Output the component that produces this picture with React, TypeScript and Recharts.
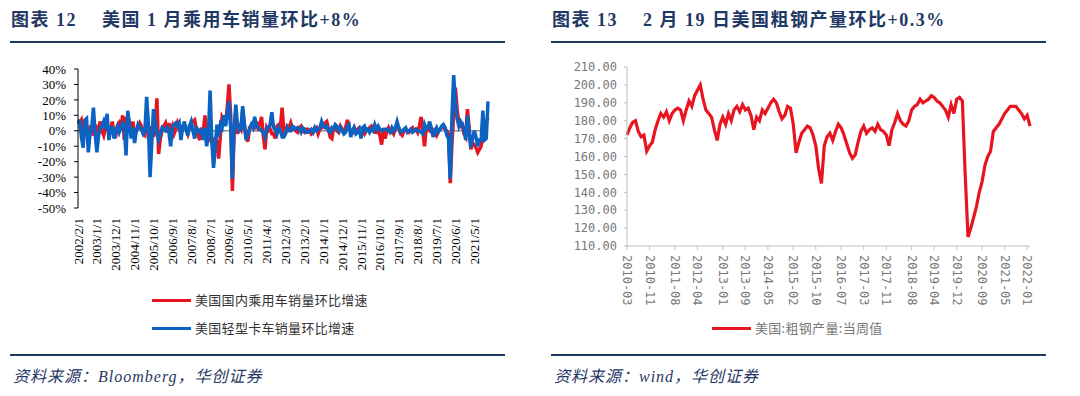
import { LineChart, Line, XAxis, YAxis, ReferenceLine } from "recharts";

// US passenger car / light truck sales, month-on-month %, 2002-02 .. 2022-01
const CAR_MOM = [
  6, 5, 7, 1, 3, 0, -2, 2, 1, -3, 4, -1,
  2, 6, 0, -3, 2, 4, -1, 1, 6, -2, -3, 3,
  5, 1, 10, -6, 9, 3, 5, -1, 6, -3, 0, 2,
  5, 3, -2, -3, 9, -1, -8, 3, -4, 2, 21, -15,
  -5, 0, 3, 5, -1, 5, 0, 3, -2, 1, 5, 2,
  -2, 3, 4, 1, -2, 3, 5, 6, 7, 1, -3, -6,
  2, -1, 10, -3, 2, -5, -8, -10, -4, -8, -18, -3,
  9, 7, 4, 15, 30, 10, -39, 0, 12, -2, 3, 1,
  14, 4, -4, -7, 2, 3, 5, 1, 6, 2, 4, 9,
  -3, -12, 2, 0, 1, -2, -2, -5, 3, 4, 3, 15,
  -1, 0, 3, 2, 5, 1, 2, 0, -1, 2, 3, 0,
  -1, 1, 1, 0, -2, -1, 1, 2, -2, 1, 2, 3,
  5, 6, 1, -4, -5, 2, 2, 0, -1, 3, 1, 0,
  2, 7, 2, 0, -1, 2, 0, 1, 2, 1, 0, -2,
  0, 1, 2, 3, 1, -1, -1, 0, -3, -9, 1, -5,
  0, 2, -1, 0, -2, 1, 3, 2, -2, -3, 0, 1,
  0, -1, 1, 2, 0, 1, -1, 3, 9, 0, -10, 2,
  1, 0, 2, 0, -1, -3, 0, 1, 2, 3, 1, 0,
  -2, -34, -8, 10, 28, 14, 5, 3, 4, -2, -4, 14,
  2, -12, -8, -9, -11, -14, -12, -10, 2, -4, 6, 8,
];

const TRUCK_MOM = [
  7, 6, -4, -11, 7, 8, -14, -2, 2, 15, -2, -14,
  -3, 2, 3, 6, 1, 11, -6, 2, 2, -5, 0, 3,
  -1, 2, 5, 3, -16, 13, 4, -5, 2, -8, 0, 4,
  2, 1, -2, 0, 22, 5, -30, -8, 14, 4, -2, -6,
  -2, 2, 1, 0, 2, -1, -10, 2, 4, 5, 3, 5,
  -6, 2, 6, 1, -3, 3, 6, 0, -5, 2, 1, -1,
  0, -6, 2, -10, -3, 26, -6, -24, -11, 4, -4, 4,
  2, 10, 3, 11, 19, 2, -31, 2, 17, 3, 0, 1,
  16, 4, -6, -2, 1, 4, 2, 9, 3, 2, 1, 0,
  -1, -4, 2, 2, 4, 12, 2, 1, -2, 2, 0, -4,
  -4, -2, 2, 0, 0, 3, 2, 1, 2, 1, -1, 2,
  1, -1, -1, 0, 1, -1, 2, 0, 1, 2, 6, 3,
  2, 3, 0, -1, 2, 1, 4, 3, 0, 2, 0, -2,
  -1, 3, 4, -4, 0, 2, -2, -1, 1, -5, 2, 3,
  0, 1, -1, 1, 0, 4, 1, 3, 1, 0, 1, 1,
  1, 0, -1, 2, 0, 2, 6, 2, -1, 0, 1, 2,
  -1, 0, 1, -1, 0, 1, 0, 0, -1, -2, 4, 1,
  2, 6, 1, -4, 0, 2, -1, 1, 3, 4, 2, -3,
  -5, -31, 10, 36, 18, 8, 3, 6, 4, 1, -6, 10,
  0, -11, -5, 0, -4, -10, -6, -6, 13, -6, -5, 19,
];

// US crude steel output, weekly value (sampled monthly), 2010-03 .. 2022-02
const STEEL = [
  172, 176, 179, 180, 174, 171, 172, 163, 166, 168, 175, 180,
  184, 182, 185, 180, 184, 186, 187, 186, 180, 186, 191, 188,
  194, 197, 200, 192, 186, 184, 182, 175, 169, 178, 182, 178,
  184, 180, 186, 188, 185, 189, 186, 187, 183, 175, 182, 180,
  186, 184, 187, 190, 192, 190, 185, 181, 183, 188, 187, 178,
  162, 168, 173, 175, 177, 176, 172, 166, 153, 145, 166, 171,
  173, 169, 174, 178, 176, 172, 167, 162, 159, 161, 168, 174,
  177, 173, 175, 176, 174, 178, 175, 174, 172, 166, 175, 179,
  184, 180, 178, 177, 180, 186, 188, 189, 192, 190, 191, 192,
  194, 193, 191, 190, 188, 186, 182, 189, 184, 192, 193, 191,
  150, 115, 120, 126, 132, 140, 146, 155, 160, 163, 174, 176,
  178, 181, 184, 186, 188, 188, 188, 186, 184, 181, 183, 177,
];

const LEFT_Y_TICKS = [-50, -40, -30, -20, -10, 0, 10, 20, 30, 40];
const RIGHT_Y_TICKS = [110, 120, 130, 140, 150, 160, 170, 180, 190, 200, 210];
const RIGHT_X_TICKS = [
  "2010-03", "2010-11", "2011-08", "2012-04", "2013-01", "2013-09",
  "2014-05", "2015-02", "2015-10", "2016-07", "2017-03", "2017-11",
  "2018-08", "2019-04", "2019-12", "2020-09", "2021-05", "2022-01",
];

function months(y0: number, m0: number, n: number, fmt: (y: number, m: number) => string) {
  const out: string[] = [];
  for (let i = 0; i < n; i++) {
    const k = m0 - 1 + i;
    out.push(fmt(y0 + Math.floor(k / 12), (k % 12) + 1));
  }
  return out;
}

const salesRows = months(2002, 2, CAR_MOM.length, (y, m) => `${y}/${m}/1`).map((d, i) => ({
  d,
  car: CAR_MOM[i],
  truck: TRUCK_MOM[i],
}));

const steelRows = months(2010, 3, STEEL.length, (y, m) => `${y}-${String(m).padStart(2, "0")}`).map((d, i) => ({
  d,
  v: STEEL[i],
}));

const NAVY = "#1f3864";
const RED = "#e8141f";
const BLUE = "#0a63c2";
const SERIF = '"Liberation Serif", "Noto Sans CJK SC", serif';
const CJK = '"Noto Sans CJK SC", sans-serif';
const MONO = '"DejaVu Sans Mono", monospace';

function LeftXTick({ x, y, payload }: any) {
  return (
    <text x={x} y={y} transform={`rotate(-90, ${x}, ${y})`} textAnchor="end" dominantBaseline="central"
      fontSize={13} fontFamily={SERIF} fill="#000">
      {payload.value}
    </text>
  );
}

function RightXTick({ x, y, payload }: any) {
  return (
    <text x={x} y={y} transform={`rotate(90, ${x}, ${y})`} textAnchor="start" dominantBaseline="central"
      fontSize={12} fontFamily={MONO} fill="#777">
      {payload.value}
    </text>
  );
}

const abs = (left: number, top: number, extra: React.CSSProperties = {}): React.CSSProperties => ({
  position: "absolute",
  left,
  top,
  ...extra,
});

function Title({ left, num, text }: { left: number; num: string; text: string }) {
  const st: React.CSSProperties = {
    fontFamily: SERIF, fontWeight: 700, fontSize: 18, color: NAVY, letterSpacing: 1.5, whiteSpace: "pre", lineHeight: "20px",
  };
  return (
    <>
      <div style={abs(left + 1, 10, st)}>{`图表 ${num}`}</div>
      <div style={abs(left + 92, 10, st)}>{text}</div>
      <div style={abs(left, 41, { width: 495, height: 2, background: NAVY })} />
      <div style={abs(left, 354, { width: 495, height: 2, background: NAVY })} />
    </>
  );
}

function Source({ left, text }: { left: number; text: string }) {
  return (
    <div style={abs(left + 3, 367, {
      fontFamily: SERIF, fontStyle: "italic", fontSize: 16, color: NAVY, letterSpacing: 1, whiteSpace: "pre", lineHeight: "20px",
    })}>
      {text}
    </div>
  );
}

function LegendItem({ left, top, color, text, textColor }: { left: number; top: number; color: string; text: string; textColor: string }) {
  return (
    <>
      <div style={abs(left, top - 1.5, { width: 39, height: 3.5, background: color })} />
      <div style={abs(left + 43, top - 10, {
        fontFamily: CJK, fontSize: 13, lineHeight: "20px", color: textColor, letterSpacing: 0.3, whiteSpace: "pre",
      })}>
        {text}
      </div>
    </>
  );
}

export default function App() {
  return (
    <div style={{ position: "absolute", left: 0, top: 0, width: 1080, height: 396, background: "#fff", overflow: "hidden" }}>
      <Title left={10} num="12" text="美国 1 月乘用车销量环比+8%" />
      <Title left={551} num="13" text="2 月 19 日美国粗钢产量环比+0.3%" />

      <div style={abs(0, 0)}>
        <LineChart width={540} height={290} data={salesRows} margin={{ top: 69, right: 52, bottom: 12, left: 0 }}>
          <XAxis dataKey="d" interval={10} axisLine={false} tickLine={false} tickSize={0} tickMargin={10}
            height={70} tick={<LeftXTick />} />
          <YAxis domain={[-50, 40]} ticks={LEFT_Y_TICKS} interval={0} width={78} tickFormatter={(v) => `${v}%`}
            axisLine={{ stroke: "#000" }} tickLine={{ stroke: "#000" }} tickSize={4} tickMargin={8}
            tick={{ fontSize: 13, fontFamily: SERIF, fill: "#000" }} />
          <ReferenceLine y={0} stroke="#8c8c8c" strokeWidth={1.5} />
          <Line dataKey="car" stroke={RED} strokeWidth={3.5} dot={false} activeDot={false} isAnimationActive={false} />
          <Line dataKey="truck" stroke={BLUE} strokeWidth={3.5} dot={false} activeDot={false} isAnimationActive={false} />
        </LineChart>
      </div>

      <div style={abs(540, 0)}>
        <LineChart width={540} height={320} data={steelRows} margin={{ top: 67, right: 50, bottom: 14, left: 0 }}>
          <XAxis dataKey="d" ticks={RIGHT_X_TICKS} interval={0} axisLine={{ stroke: "#bfbfbf" }}
            tickLine={{ stroke: "#bfbfbf" }} tickSize={4} tickMargin={5} height={60} tick={<RightXTick />} />
          <YAxis domain={[110, 210]} ticks={RIGHT_Y_TICKS} interval={0} width={87} tickFormatter={(v) => v.toFixed(2)}
            axisLine={{ stroke: "#bfbfbf" }} tickLine={{ stroke: "#bfbfbf" }} tickSize={3} tickMargin={7}
            tick={{ fontSize: 12, fontFamily: MONO, fill: "#777" }} />
          <Line dataKey="v" stroke={RED} strokeWidth={3.2} dot={false} activeDot={false} isAnimationActive={false} />
        </LineChart>
      </div>

      <LegendItem left={152} top={300} color={RED} text="美国国内乘用车销量环比增速" textColor="#333" />
      <LegendItem left={152} top={328} color={BLUE} text="美国轻型卡车销量环比增速" textColor="#333" />
      <LegendItem left={712} top={328} color={RED} text="美国:粗钢产量:当周值" textColor="#777" />

      <Source left={10} text="资料来源：Bloomberg，华创证券" />
      <Source left={551} text="资料来源：wind，华创证券" />
    </div>
  );
}
